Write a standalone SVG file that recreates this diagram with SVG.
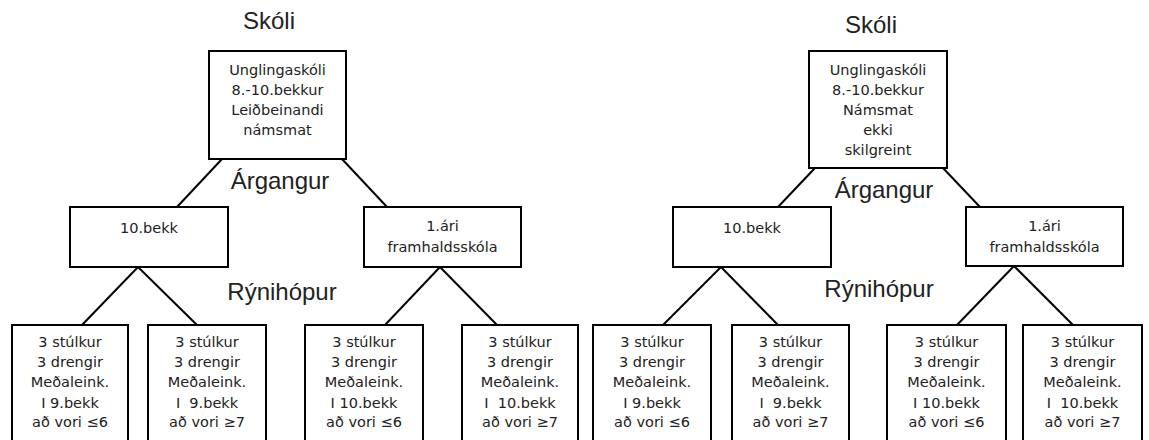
<svg xmlns="http://www.w3.org/2000/svg" width="1149" height="440" viewBox="0 0 1149 440">
<style>
.box{fill:#fff;stroke:#000;stroke-width:2}
.t{font-family:"DejaVu Sans",sans-serif;font-size:14.5px;fill:#222;text-anchor:middle;white-space:pre}
.lab{font-family:"Liberation Sans",Arial,sans-serif;font-size:24px;fill:#222;text-anchor:middle}
.c line{stroke:#000;stroke-width:2}
</style>
<rect width="1149" height="440" fill="#fff"/>
<g class="c" id="connectors">
<line x1="222" y1="159" x2="177" y2="207"/>
<line x1="342" y1="159" x2="387" y2="207"/>
<line x1="138" y1="267" x2="82" y2="325"/>
<line x1="138" y1="267" x2="197" y2="325"/>
<line x1="440" y1="267" x2="385" y2="325"/>
<line x1="440" y1="267" x2="497" y2="325"/>
<line x1="815" y1="168" x2="778" y2="207"/>
<line x1="943" y1="168" x2="980" y2="207"/>
<line x1="721" y1="267" x2="663" y2="325"/>
<line x1="721" y1="267" x2="778" y2="325"/>
<line x1="1014" y1="266" x2="957" y2="325"/>
<line x1="1014" y1="266" x2="1073" y2="325"/>
</g>
<g id="labels">
<text class="lab" x="269" y="29">Skóli</text>
<text class="lab" x="280" y="189">Árgangur</text>
<text class="lab" x="282" y="300">Rýnihópur</text>
<text class="lab" x="871" y="33">Skóli</text>
<text class="lab" x="884" y="198">Árgangur</text>
<text class="lab" x="879" y="297">Rýnihópur</text>
</g>
<g id="top-left">
<rect class="box" x="209" y="51" width="137" height="108"/>
<text class="t" x="277.5" y="75">Unglingaskóli</text>
<text class="t" x="277.5" y="95">8.-10.bekkur</text>
<text class="t" x="277.5" y="115">Leiðbeinandi</text>
<text class="t" x="277.5" y="135">námsmat</text>
</g>
<g id="left-10bekk">
<rect class="box" x="70" y="207" width="158" height="60"/>
<text class="t" x="149" y="233">10.bekk</text>
</g>
<g id="left-1ari">
<rect class="box" x="364" y="207" width="157" height="60"/>
<text class="t" x="442.5" y="231">1.ári</text>
<text class="t" x="442.5" y="252">framhaldsskóla</text>
</g>
<g id="leaf1">
<rect class="box" x="12" y="325" width="116" height="125"/>
<text class="t" x="70" y="347">3 stúlkur</text>
<text class="t" x="70" y="367">3 drengir</text>
<text class="t" x="70" y="387">Meðaleink.</text>
<text class="t" x="70" y="408">I 9.bekk</text>
<text class="t" x="70" y="427">að vori ≤6</text>
</g>
<g id="leaf2">
<rect class="box" x="148" y="325" width="118" height="125"/>
<text class="t" x="207" y="347">3 stúlkur</text>
<text class="t" x="207" y="367">3 drengir</text>
<text class="t" x="207" y="387">Meðaleink.</text>
<text class="t" x="207" y="408">I  9.bekk</text>
<text class="t" x="207" y="427">að vori ≥7</text>
</g>
<g id="leaf3">
<rect class="box" x="305" y="325" width="118" height="125"/>
<text class="t" x="364" y="347">3 stúlkur</text>
<text class="t" x="364" y="367">3 drengir</text>
<text class="t" x="364" y="387">Meðaleink.</text>
<text class="t" x="364" y="408">I 10.bekk</text>
<text class="t" x="364" y="427">að vori ≤6</text>
</g>
<g id="leaf4">
<rect class="box" x="462" y="325" width="116" height="125"/>
<text class="t" x="520" y="347">3 stúlkur</text>
<text class="t" x="520" y="367">3 drengir</text>
<text class="t" x="520" y="387">Meðaleink.</text>
<text class="t" x="520" y="408">I  10.bekk</text>
<text class="t" x="520" y="427">að vori ≥7</text>
</g>
<g id="top-right">
<rect class="box" x="809" y="51" width="138" height="117"/>
<text class="t" x="878" y="75">Unglingaskóli</text>
<text class="t" x="878" y="95">8.-10.bekkur</text>
<text class="t" x="878" y="115">Námsmat</text>
<text class="t" x="878" y="135">ekki</text>
<text class="t" x="878" y="155">skilgreint</text>
</g>
<g id="right-10bekk">
<rect class="box" x="673" y="207" width="158" height="60"/>
<text class="t" x="752" y="233">10.bekk</text>
</g>
<g id="right-1ari">
<rect class="box" x="966" y="207" width="157" height="59"/>
<text class="t" x="1044.5" y="231">1.ári</text>
<text class="t" x="1044.5" y="252">framhaldsskóla</text>
</g>
<g id="leaf5">
<rect class="box" x="593" y="325" width="118" height="125"/>
<text class="t" x="652" y="347">3 stúlkur</text>
<text class="t" x="652" y="367">3 drengir</text>
<text class="t" x="652" y="387">Meðaleink.</text>
<text class="t" x="652" y="408">I 9.bekk</text>
<text class="t" x="652" y="427">að vori ≤6</text>
</g>
<g id="leaf6">
<rect class="box" x="732" y="325" width="117" height="125"/>
<text class="t" x="790.5" y="347">3 stúlkur</text>
<text class="t" x="790.5" y="367">3 drengir</text>
<text class="t" x="790.5" y="387">Meðaleink.</text>
<text class="t" x="790.5" y="408">I  9.bekk</text>
<text class="t" x="790.5" y="427">að vori ≥7</text>
</g>
<g id="leaf7">
<rect class="box" x="887" y="325" width="119" height="125"/>
<text class="t" x="946.5" y="347">3 stúlkur</text>
<text class="t" x="946.5" y="367">3 drengir</text>
<text class="t" x="946.5" y="387">Meðaleink.</text>
<text class="t" x="946.5" y="408">I 10.bekk</text>
<text class="t" x="946.5" y="427">að vori ≤6</text>
</g>
<g id="leaf8">
<rect class="box" x="1023" y="325" width="119" height="125"/>
<text class="t" x="1082.5" y="347">3 stúlkur</text>
<text class="t" x="1082.5" y="367">3 drengir</text>
<text class="t" x="1082.5" y="387">Meðaleink.</text>
<text class="t" x="1082.5" y="408">I  10.bekk</text>
<text class="t" x="1082.5" y="427">að vori ≥7</text>
</g>
</svg>
